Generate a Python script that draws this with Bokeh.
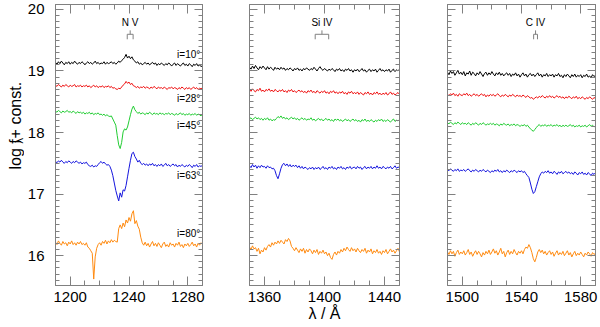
import math
from bokeh.plotting import figure
from bokeh.layouts import row
from bokeh.models import (Range1d, LinearAxis, FixedTicker, SingleIntervalTicker,
                          CustomLabelingPolicy)
from bokeh.embed import file_html
from bokeh.resources import INLINE
from bokeh.core.properties import value

# ---------------- data ----------------
inclinations = ["i=10°", "i=28°", "i=45°", "i=63°", "i=80°"]
incl_label_y = [19.26, 18.55, 18.12, 17.30, 16.36]

lam_nv = list(range(1190, 1291))
lam_si = list(range(1350, 1451))
lam_c = list(range(1490, 1591))

xticks_nv = [1200, 1240, 1280]
xticks_si = [1360, 1400, 1440]
xticks_c = [1500, 1540, 1580]
yticks = [16, 17, 18, 19, 20]

nv_doublet = [1238.8, 1242.8]
si_doublet = [1393.8, 1402.8]
c_doublet = [1548.2, 1550.8]

nv_i10 = [19.14, 19.11, 19.15, 19.12, 19.16, 19.13, 19.10, 19.14, 19.12, 19.15,
          19.11, 19.14, 19.12, 19.16, 19.13, 19.11, 19.14, 19.12, 19.15, 19.13,
          19.10, 19.13, 19.15, 19.12, 19.14, 19.11, 19.13, 19.16, 19.12, 19.14,
          19.11, 19.13, 19.12, 19.15, 19.11, 19.14, 19.12, 19.13, 19.15, 19.12,
          19.14, 19.11, 19.13, 19.16, 19.14, 19.17, 19.19, 19.22, 19.27, 19.21,
          19.24, 19.20, 19.23, 19.18, 19.16, 19.13, 19.15, 19.11, 19.13, 19.10,
          19.12, 19.14, 19.11, 19.13, 19.10, 19.12, 19.14, 19.11, 19.13, 19.09,
          19.12, 19.10, 19.13, 19.11, 19.09, 19.12, 19.10, 19.13, 19.11, 19.08,
          19.11, 19.13, 19.09, 19.12, 19.10, 19.08, 19.11, 19.13, 19.09, 19.11,
          19.08, 19.12, 19.10, 19.07, 19.11, 19.09, 19.12, 19.08, 19.10, 19.07, 19.09]
nv_i28 = [18.77, 18.75, 18.78, 18.76, 18.74, 18.77, 18.75, 18.78, 18.76, 18.74,
          18.77, 18.75, 18.76, 18.78, 18.74, 18.76, 18.75, 18.77, 18.74, 18.76,
          18.75, 18.77, 18.74, 18.76, 18.73, 18.75, 18.77, 18.74, 18.76, 18.73,
          18.75, 18.74, 18.76, 18.73, 18.75, 18.74, 18.76, 18.73, 18.75, 18.72,
          18.73, 18.71, 18.70, 18.72, 18.71, 18.74, 18.77, 18.79, 18.83, 18.80,
          18.82, 18.78, 18.80, 18.76, 18.75, 18.73, 18.75, 18.72, 18.74, 18.73,
          18.75, 18.72, 18.74, 18.73, 18.71, 18.74, 18.72, 18.75, 18.73, 18.71,
          18.74, 18.72, 18.73, 18.71, 18.74, 18.72, 18.70, 18.73, 18.72, 18.74,
          18.71, 18.73, 18.72, 18.70, 18.73, 18.71, 18.74, 18.72, 18.70, 18.73,
          18.71, 18.73, 18.70, 18.72, 18.74, 18.71, 18.73, 18.70, 18.72, 18.71, 18.73]
nv_i45 = [18.35, 18.33, 18.36, 18.34, 18.32, 18.35, 18.33, 18.34, 18.36, 18.33,
          18.34, 18.32, 18.35, 18.33, 18.31, 18.34, 18.32, 18.33, 18.31, 18.33,
          18.30, 18.32, 18.31, 18.33, 18.30, 18.32, 18.29, 18.31, 18.30, 18.32,
          18.29, 18.30, 18.28, 18.30, 18.27, 18.29, 18.27, 18.26, 18.27, 18.22,
          18.17, 18.12, 17.95, 17.80, 17.74, 17.84, 18.01, 18.06, 18.04, 18.09,
          18.19, 18.29, 18.38, 18.43, 18.37, 18.34, 18.31, 18.33, 18.30, 18.32,
          18.31, 18.29, 18.32, 18.30, 18.33, 18.31, 18.29, 18.32, 18.30, 18.31,
          18.29, 18.32, 18.30, 18.31, 18.29, 18.31, 18.30, 18.32, 18.29, 18.31,
          18.30, 18.28, 18.31, 18.29, 18.30, 18.32, 18.29, 18.31, 18.28, 18.30,
          18.29, 18.31, 18.28, 18.30, 18.29, 18.31, 18.28, 18.30, 18.29, 18.27, 18.30]
nv_i63 = [17.53, 17.51, 17.54, 17.52, 17.55, 17.52, 17.50, 17.53, 17.51, 17.54,
          17.52, 17.50, 17.53, 17.51, 17.54, 17.52, 17.50, 17.52, 17.49, 17.51,
          17.50, 17.52, 17.48, 17.46, 17.45, 17.47, 17.44, 17.46, 17.45, 17.48,
          17.51, 17.53, 17.50, 17.52, 17.49, 17.47, 17.48, 17.45, 17.39, 17.30,
          17.18, 17.06, 16.97, 16.89, 17.02, 16.95, 17.07, 17.05, 17.14, 17.28,
          17.42, 17.55, 17.66, 17.68, 17.61, 17.57, 17.52, 17.55, 17.50, 17.48,
          17.50, 17.47, 17.49, 17.46, 17.49, 17.47, 17.50, 17.46, 17.48, 17.45,
          17.48, 17.46, 17.49, 17.45, 17.47, 17.50, 17.46, 17.48, 17.45, 17.47,
          17.49, 17.46, 17.48, 17.44, 17.47, 17.45, 17.48, 17.46, 17.44, 17.47,
          17.45, 17.48, 17.46, 17.43, 17.47, 17.45, 17.48, 17.44, 17.46, 17.45, 17.47]
nv_i80 = [16.22, 16.18, 16.24, 16.20, 16.17, 16.23, 16.19, 16.21, 16.16, 16.22,
          16.19, 16.24, 16.18, 16.21, 16.17, 16.22, 16.19, 16.23, 16.18, 16.20,
          16.17, 16.21, 16.14, 16.12, 16.08, 16.04, 15.62, 15.98, 16.12, 16.18,
          16.21, 16.17, 16.23, 16.20, 16.25, 16.19, 16.24, 16.21, 16.26, 16.22,
          16.25, 16.23, 16.22, 16.44, 16.50, 16.44, 16.53, 16.47, 16.58, 16.53,
          16.62, 16.56, 16.68, 16.73, 16.52, 16.57, 16.48, 16.43, 16.30, 16.21,
          16.17, 16.22, 16.16, 16.20, 16.14, 16.19, 16.23, 16.16, 16.20, 16.15,
          16.21, 16.17, 16.13, 16.19, 16.22, 16.15, 16.18, 16.14, 16.21, 16.17,
          16.19, 16.14, 16.20, 16.17, 16.22, 16.15, 16.18, 16.13, 16.19, 16.16,
          16.20, 16.15, 16.18, 16.22, 16.16, 16.19, 16.14, 16.20, 16.17, 16.21, 16.18]

si_i10 = [19.06, 19.03, 19.08, 19.04, 19.09, 19.05, 19.02, 19.07, 19.04, 19.08,
          19.05, 19.02, 19.07, 19.03, 19.06, 19.04, 19.01, 19.06, 19.03, 19.05,
          19.02, 19.06, 19.03, 19.05, 19.01, 19.04, 19.02, 19.05, 19.03, 19.00,
          19.04, 19.02, 19.05, 19.01, 19.03, 19.00, 19.04, 19.02, 19.05, 19.03,
          19.01, 19.04, 19.02, 19.06, 19.03, 19.00, 19.04, 19.07, 19.03, 19.01,
          19.04, 19.02, 19.00, 19.03, 19.01, 19.04, 19.02, 18.99, 19.03, 19.01,
          19.04, 19.00, 19.02, 18.99, 19.03, 19.01, 19.04, 19.00, 19.02, 18.98,
          19.02, 19.00, 19.03, 18.99, 19.01, 19.04, 19.00, 19.02, 18.98, 19.01,
          19.03, 18.99, 19.02, 19.00, 19.03, 18.98, 19.01, 19.04, 19.00, 19.02,
          18.99, 19.02, 19.00, 19.03, 18.98, 19.01, 19.03, 18.99, 19.02, 19.00, 19.03]
si_i28 = [18.70, 18.67, 18.71, 18.68, 18.66, 18.70, 18.68, 18.72, 18.67, 18.69,
          18.66, 18.70, 18.68, 18.71, 18.67, 18.69, 18.66, 18.70, 18.68, 18.66,
          18.69, 18.67, 18.70, 18.66, 18.68, 18.65, 18.69, 18.67, 18.70, 18.66,
          18.68, 18.65, 18.67, 18.69, 18.66, 18.68, 18.65, 18.67, 18.64, 18.68,
          18.66, 18.69, 18.65, 18.67, 18.64, 18.68, 18.66, 18.64, 18.67, 18.65,
          18.68, 18.64, 18.66, 18.63, 18.67, 18.65, 18.68, 18.64, 18.66, 18.63,
          18.66, 18.64, 18.67, 18.63, 18.65, 18.62, 18.66, 18.64, 18.67, 18.63,
          18.65, 18.63, 18.66, 18.62, 18.65, 18.63, 18.61, 18.65, 18.63, 18.66,
          18.62, 18.64, 18.61, 18.65, 18.63, 18.66, 18.62, 18.64, 18.61, 18.64,
          18.62, 18.65, 18.61, 18.63, 18.66, 18.62, 18.64, 18.61, 18.63, 18.65, 18.62]
si_i45 = [18.22, 18.24, 18.21, 18.23, 18.25, 18.22, 18.24, 18.21, 18.23, 18.20,
          18.23, 18.21, 18.24, 18.20, 18.22, 18.19, 18.21, 18.20, 18.23, 18.26,
          18.24, 18.27, 18.23, 18.25, 18.22, 18.24, 18.21, 18.23, 18.25, 18.22,
          18.24, 18.21, 18.23, 18.20, 18.22, 18.24, 18.21, 18.23, 18.20, 18.22,
          18.21, 18.24, 18.20, 18.22, 18.19, 18.21, 18.23, 18.20, 18.22, 18.19,
          18.21, 18.23, 18.20, 18.22, 18.19, 18.21, 18.18, 18.22, 18.20, 18.22,
          18.19, 18.21, 18.18, 18.20, 18.22, 18.19, 18.21, 18.18, 18.20, 18.22,
          18.19, 18.21, 18.18, 18.20, 18.17, 18.21, 18.19, 18.22, 18.18, 18.20,
          18.18, 18.21, 18.19, 18.17, 18.20, 18.18, 18.21, 18.19, 18.22, 18.18,
          18.20, 18.18, 18.21, 18.19, 18.17, 18.20, 18.22, 18.18, 18.20, 18.19, 18.21]
si_i63 = [17.46, 17.43, 17.48, 17.44, 17.47, 17.42, 17.46, 17.43, 17.47, 17.44,
          17.45, 17.42, 17.46, 17.43, 17.44, 17.41, 17.42, 17.38, 17.30, 17.25,
          17.33, 17.42, 17.48, 17.50, 17.46, 17.49, 17.45, 17.48, 17.44, 17.47,
          17.45, 17.47, 17.43, 17.46, 17.42, 17.45, 17.41, 17.44, 17.42, 17.40,
          17.43, 17.41, 17.44, 17.40, 17.43, 17.41, 17.44, 17.40, 17.42, 17.45,
          17.41, 17.43, 17.40, 17.44, 17.42, 17.45, 17.41, 17.43, 17.40, 17.44,
          17.42, 17.45, 17.41, 17.43, 17.40, 17.44, 17.42, 17.45, 17.41, 17.43,
          17.44, 17.41, 17.45, 17.42, 17.44, 17.40, 17.43, 17.45, 17.41, 17.44,
          17.42, 17.45, 17.41, 17.44, 17.42, 17.46, 17.42, 17.44, 17.41, 17.45,
          17.43, 17.41, 17.44, 17.42, 17.45, 17.41, 17.43, 17.46, 17.42, 17.44, 17.43]
si_i80 = [16.14, 16.10, 16.16, 16.11, 16.13, 16.07, 16.12, 16.03, 16.09, 16.06,
          16.13, 16.09, 16.15, 16.18, 16.14, 16.21, 16.17, 16.22, 16.19, 16.24,
          16.20, 16.25, 16.22, 16.19, 16.26, 16.23, 16.28, 16.24, 16.15, 16.12,
          16.08, 16.13, 16.09, 16.05, 16.11, 16.07, 16.12, 16.04, 16.10, 16.06,
          16.11, 16.08, 16.03, 16.09, 16.05, 16.10, 16.02, 16.07, 16.04, 16.09,
          16.03, 16.06, 16.00, 16.04, 15.97, 15.94, 16.02, 16.06, 16.01, 16.07,
          16.04, 16.10, 16.06, 16.12, 16.08, 16.14, 16.10, 16.07, 16.13, 16.08,
          16.11, 16.06, 16.12, 16.08, 16.05, 16.10, 16.07, 16.12, 16.04, 16.09,
          16.06, 16.11, 16.03, 16.08, 16.05, 16.10, 16.04, 16.07, 16.02, 16.08,
          16.05, 16.10, 16.03, 16.07, 16.11, 16.06, 16.09, 16.04, 16.08, 16.12, 16.06]

c_i10 = [18.98, 18.94, 19.00, 18.96, 18.99, 18.93, 18.97, 19.01, 18.95, 18.98,
         18.94, 18.99, 18.92, 18.97, 18.95, 19.00, 18.93, 18.98, 18.96, 18.92,
         18.97, 18.94, 18.99, 18.95, 18.91, 18.96, 18.98, 18.93, 18.97, 18.94,
         18.99, 18.95, 18.92, 18.97, 18.94, 18.98, 18.93, 18.96, 18.92, 18.95,
         18.97, 18.93, 18.96, 18.91, 18.95, 18.93, 18.97, 18.92, 18.95, 18.90,
         18.94, 18.97, 18.92, 18.95, 18.90, 18.94, 18.96, 18.92, 18.95, 18.91,
         18.94, 18.97, 18.92, 18.95, 18.90, 18.94, 18.92, 18.96, 18.91, 18.94,
         18.92, 18.95, 18.90, 18.94, 18.92, 18.96, 18.91, 18.93, 18.89, 18.94,
         18.91, 18.95, 18.92, 18.89, 18.94, 18.91, 18.95, 18.90, 18.93, 18.91,
         18.94, 18.89, 18.93, 18.91, 18.95, 18.90, 18.92, 18.89, 18.94, 18.91, 18.93]
c_i28 = [18.62, 18.60, 18.63, 18.61, 18.64, 18.60, 18.62, 18.59, 18.63, 18.61,
         18.60, 18.63, 18.61, 18.64, 18.60, 18.62, 18.59, 18.61, 18.63, 18.60,
         18.62, 18.59, 18.61, 18.63, 18.60, 18.62, 18.58, 18.61, 18.59, 18.62,
         18.60, 18.62, 18.59, 18.61, 18.63, 18.60, 18.58, 18.61, 18.59, 18.62,
         18.60, 18.58, 18.61, 18.59, 18.62, 18.60, 18.58, 18.61, 18.59, 18.60,
         18.58, 18.61, 18.59, 18.57, 18.60, 18.58, 18.56, 18.57, 18.54, 18.56,
         18.58, 18.56, 18.59, 18.57, 18.60, 18.58, 18.56, 18.59, 18.57, 18.60,
         18.57, 18.59, 18.56, 18.58, 18.60, 18.57, 18.59, 18.56, 18.58, 18.55,
         18.58, 18.56, 18.59, 18.57, 18.55, 18.58, 18.56, 18.59, 18.55, 18.57,
         18.55, 18.58, 18.56, 18.54, 18.57, 18.55, 18.58, 18.56, 18.54, 18.57, 18.55]
c_i45 = [18.16, 18.14, 18.17, 18.15, 18.13, 18.16, 18.14, 18.17, 18.15, 18.13,
         18.16, 18.14, 18.15, 18.13, 18.16, 18.14, 18.12, 18.15, 18.13, 18.16,
         18.14, 18.12, 18.15, 18.13, 18.16, 18.14, 18.12, 18.14, 18.13, 18.15,
         18.13, 18.15, 18.12, 18.14, 18.13, 18.11, 18.14, 18.12, 18.15, 18.13,
         18.12, 18.14, 18.11, 18.13, 18.12, 18.14, 18.11, 18.13, 18.12, 18.10,
         18.12, 18.11, 18.13, 18.10, 18.12, 18.09, 18.06, 18.04, 18.02, 18.05,
         18.08, 18.11, 18.13, 18.10, 18.12, 18.11, 18.13, 18.10, 18.12, 18.11,
         18.13, 18.10, 18.12, 18.11, 18.13, 18.10, 18.12, 18.09, 18.12, 18.10,
         18.12, 18.10, 18.11, 18.13, 18.10, 18.12, 18.09, 18.11, 18.10, 18.12,
         18.09, 18.11, 18.10, 18.12, 18.09, 18.11, 18.13, 18.10, 18.12, 18.09, 18.11]
c_i63 = [17.40, 17.38, 17.41, 17.39, 17.37, 17.40, 17.38, 17.41, 17.37, 17.39,
         17.38, 17.40, 17.37, 17.39, 17.41, 17.38, 17.36, 17.39, 17.37, 17.40,
         17.38, 17.36, 17.39, 17.37, 17.40, 17.38, 17.36, 17.39, 17.37, 17.35,
         17.38, 17.36, 17.39, 17.37, 17.40, 17.36, 17.38, 17.35, 17.38, 17.36,
         17.39, 17.37, 17.35, 17.38, 17.36, 17.39, 17.37, 17.35, 17.38, 17.36,
         17.38, 17.35, 17.37, 17.33, 17.30, 17.27, 17.18, 17.08, 17.01, 17.04,
         17.12, 17.20, 17.28, 17.33, 17.36, 17.34, 17.37, 17.35, 17.38, 17.34,
         17.36, 17.33, 17.37, 17.35, 17.32, 17.36, 17.34, 17.37, 17.33, 17.35,
         17.37, 17.34, 17.36, 17.33, 17.35, 17.32, 17.36, 17.34, 17.31, 17.35,
         17.33, 17.36, 17.32, 17.34, 17.31, 17.35, 17.33, 17.30, 17.34, 17.32, 17.35]
c_i80 = [16.06, 16.02, 16.08, 16.03, 16.07, 15.99, 16.05, 16.09, 16.02, 16.06,
         16.03, 16.08, 16.01, 16.05, 16.10, 16.02, 16.06, 15.99, 16.04, 16.08,
         16.02, 16.07, 16.03, 15.98, 16.05, 16.01, 16.07, 16.03, 16.09, 16.02,
         16.06, 16.11, 16.04, 16.08, 16.01, 16.06, 16.12, 16.03, 16.07, 15.98,
         16.05, 16.09, 16.02, 16.07, 16.03, 16.10, 16.05, 16.01, 16.07, 16.04,
         16.08, 16.03, 16.10, 16.14, 16.12, 16.18, 16.13, 16.05, 15.95, 15.90,
         15.97, 16.06, 16.10, 16.05, 16.09, 16.03, 16.07, 16.01, 16.05, 16.08,
         16.02, 16.06, 15.99, 16.04, 16.08, 16.01, 16.05, 16.02, 16.07, 16.00,
         16.04, 16.08, 16.01, 16.05, 15.98, 16.03, 16.07, 16.00, 16.04, 16.01,
         16.06, 16.02, 15.98, 16.04, 16.01, 16.06, 16.03, 15.99, 16.05, 16.02, 16.04]

# ---------------- styling ----------------
FONT = "Liberation Sans"
GRAY = "#808080"
COLORS = ["#000000", "#ee1111", "#22cc33", "#1515dd", "#ff8a10"]
Y0, Y1 = 15.5155, 20.08
H = 327
STRIP_W = 24

panels = [
    dict(lam=lam_nv, series=[nv_i10, nv_i28, nv_i45, nv_i63, nv_i80], xr=(1190, 1290),
         ticks=xticks_nv, doublet=nv_doublet, name="N V", w=182, ml=28),
    dict(lam=lam_si, series=[si_i10, si_i28, si_i45, si_i63, si_i80], xr=(1350, 1450),
         ticks=xticks_si, doublet=si_doublet, name="Si IV", w=197, ml=43),
    dict(lam=lam_c, series=[c_i10, c_i28, c_i45, c_i63, c_i80], xr=(1490, 1590),
         ticks=xticks_c, doublet=c_doublet, name="C IV", w=196, ml=44),
]


def style_axis(ax, show, tin, tmin, standoff):
    ax.axis_line_color = GRAY
    ax.major_tick_line_color = GRAY
    ax.minor_tick_line_color = GRAY
    ax.major_tick_out = 0
    ax.minor_tick_out = 0
    ax.major_tick_in = tin
    ax.minor_tick_in = tmin
    ax.axis_label = None
    if show:
        ax.major_label_text_font = FONT
        ax.major_label_text_font_size = "15px"
        ax.major_label_text_color = "black"
        ax.major_label_standoff = standoff
    else:
        ax.major_label_text_font_size = "1px"
        ax.major_label_standoff = 0
        ax.major_label_policy = CustomLabelingPolicy(code="return []")


# narrow strip holding the y-axis title  log f_lambda + const.
pt = figure(width=STRIP_W, height=H, x_range=Range1d(0, STRIP_W), y_range=Range1d(0, H),
            x_axis_type=None, y_axis_type=None, output_backend="svg",
            toolbar_location=None, min_border=0)
pt.outline_line_color = None
title_parts = ["log f", "λ", " + const."]
title_x = [15.0, 18.0, 15.0]
title_top = [192, 161.8, 155.8]
title_size = ["16px", "11px", "16px"]
for txt, tx, ty, fs in zip(title_parts, title_x, title_top, title_size):
    pt.text(x=[tx], y=[H - ty], text=[txt], angle=math.pi / 2,
            text_align="left", text_baseline="alphabetic",
            text_font=value(FONT), text_font_size=fs, text_color="black")

figs = [pt]
for k, pn in enumerate(panels):
    x0, x1 = pn["xr"]
    p = figure(width=pn["w"], height=H,
               x_range=Range1d(x0, x1), y_range=Range1d(Y0, Y1),
               x_axis_type=None, y_axis_type=None,
               output_backend="svg", toolbar_location=None,
               min_border_left=pn["ml"], min_border_right=1,
               min_border_top=2, min_border_bottom=42)
    p.outline_line_color = GRAY
    p.background_fill_color = "white"
    p.border_fill_color = "white"

    xt = FixedTicker(ticks=pn["ticks"], minor_ticks=list(range(x0, x1 + 1, 10)))
    yt = SingleIntervalTicker(interval=1, num_minor_ticks=10)

    ax = LinearAxis(ticker=xt)
    style_axis(ax, True, 9, 5, 6)
    if k == 1:
        ax.axis_label = "λ / Å"
        ax.axis_label_text_font = FONT
        ax.axis_label_text_font_size = "16px"
        ax.axis_label_text_font_style = "normal"
        ax.axis_label_text_color = "black"
        ax.axis_label_standoff = 0
    p.add_layout(ax, "below")
    ax = LinearAxis(ticker=xt)
    style_axis(ax, False, 9, 5, 0)
    p.add_layout(ax, "above")
    ay = LinearAxis(ticker=yt)
    style_axis(ay, k == 0, 8, 4, 11)
    p.add_layout(ay, "left")
    ay = LinearAxis(ticker=yt)
    style_axis(ay, False, 8, 4, 0)
    p.add_layout(ay, "right")

    for s, c in zip(pn["series"], COLORS):
        p.line(pn["lam"], s, line_color=c, line_width=1.0)

    # doublet bracket
    a, b = pn["doublet"]
    mid = 0.5 * (a + b)
    p.multi_line(xs=[[a, a, b, b], [mid, mid]],
                 ys=[[19.515, 19.596, 19.596, 19.515], [19.596, 19.66]],
                 line_color=GRAY, line_width=1)
    p.text(x=[mid], y=[19.79], text=[pn["name"]], text_align="center",
           text_baseline="middle", text_font=value(FONT), text_font_size="10px",
           text_color="black")

    if k == 0:
        p.text(x=[x1 - 1.5] * len(inclinations), y=incl_label_y, text=inclinations,
               text_align="right", text_baseline="middle", text_font=value(FONT),
               text_font_size="10px", text_color="black")
    figs.append(p)

layout = row(figs, spacing=0)
open("out.html", "w").write(file_html(layout, INLINE))
